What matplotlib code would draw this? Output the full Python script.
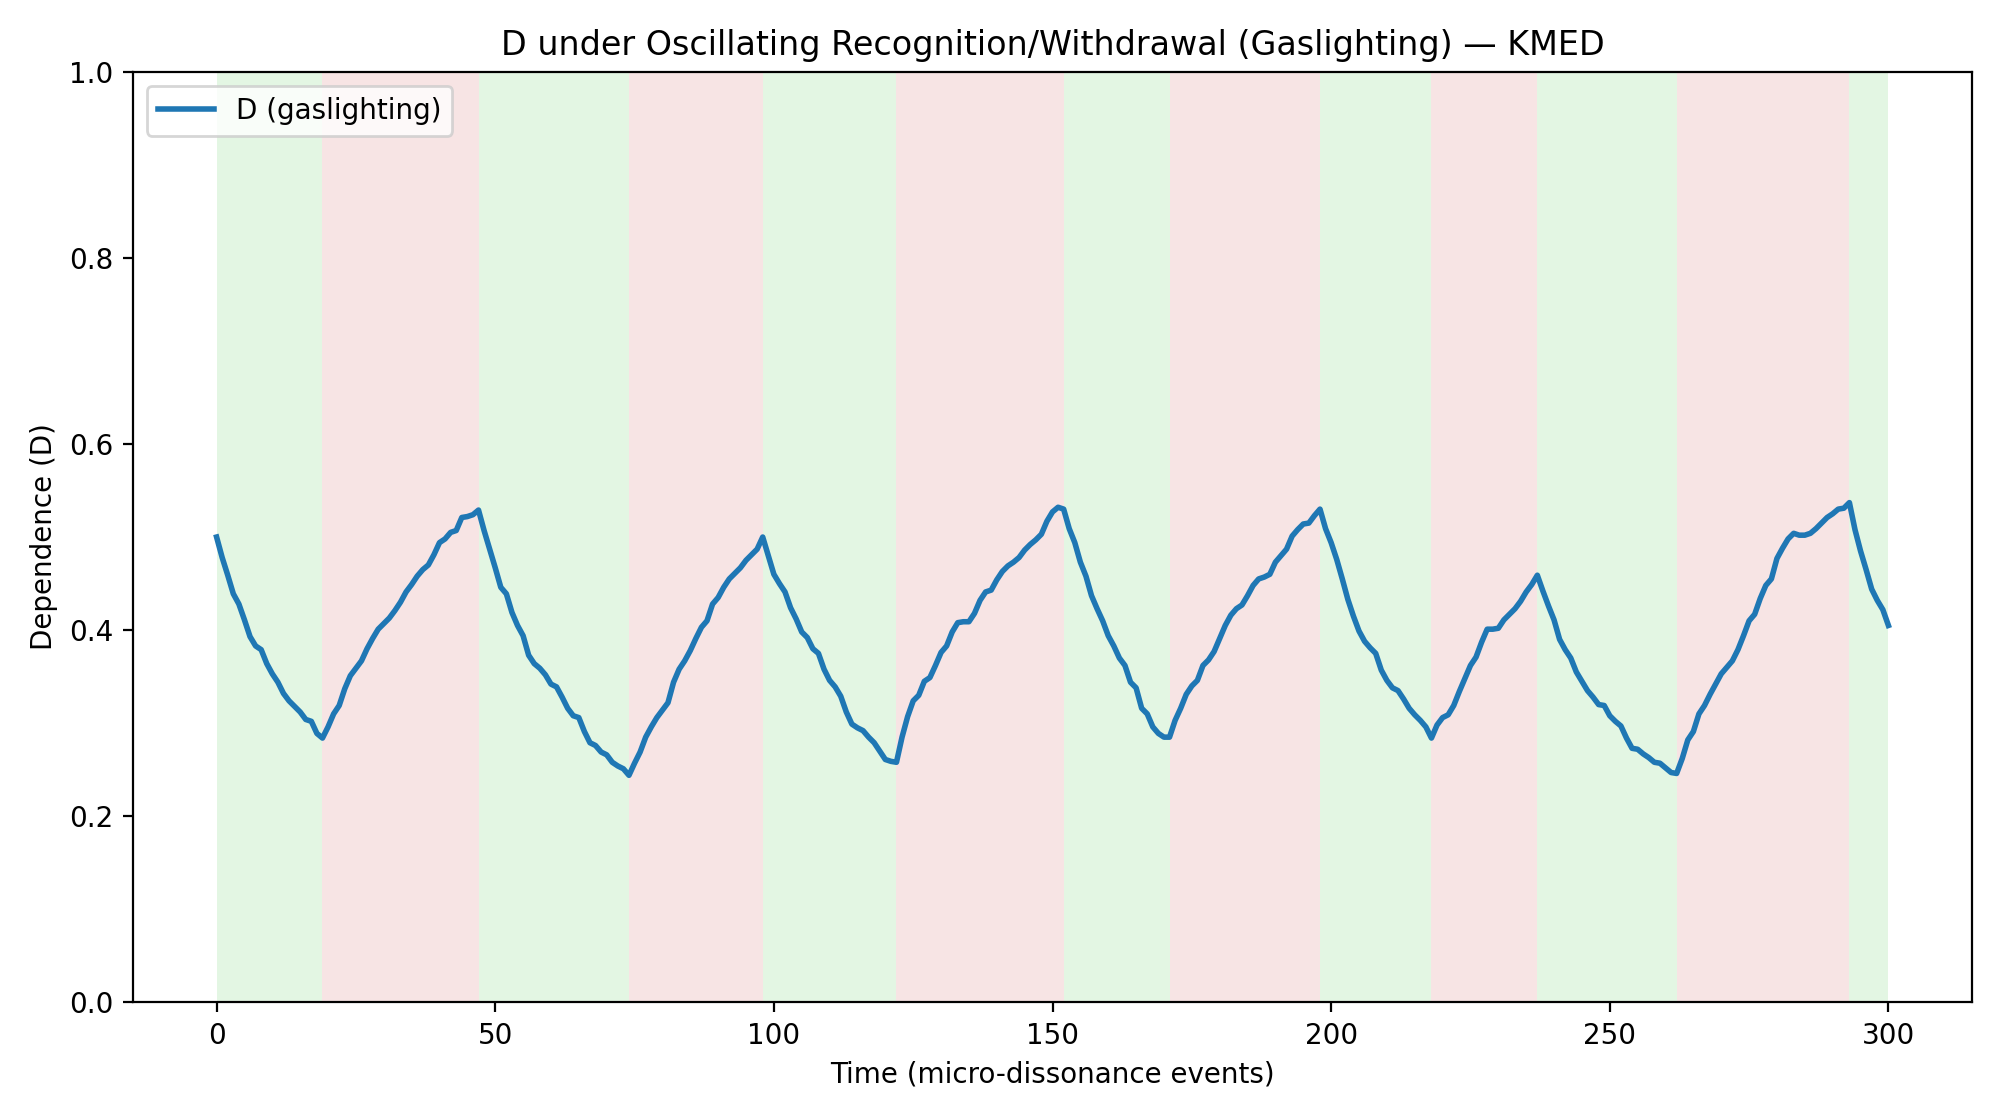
import matplotlib
matplotlib.use("Agg")
import matplotlib.pyplot as plt
import numpy as np

# Phase boundaries (recognition = green, withdrawal = red), alternating starting with recognition
phase_bounds = [0, 19, 47, 74, 98, 122, 152, 171, 198, 218, 237, 262, 293, 300]
phase_kinds = ["rec", "wd", "rec", "wd", "rec", "wd", "rec", "wd", "rec", "wd", "rec", "wd", "rec"]

D_values = [
    0.500, 0.478, 0.459, 0.439, 0.428, 0.411, 0.393, 0.383, 0.379, 0.364,
    0.353, 0.344, 0.332, 0.324, 0.318, 0.312, 0.304, 0.302, 0.289, 0.284,
    0.296, 0.310, 0.319, 0.337, 0.351, 0.359, 0.367, 0.380, 0.391, 0.401,
    0.407, 0.413, 0.421, 0.430, 0.441, 0.449, 0.458, 0.465, 0.470, 0.481,
    0.494, 0.498, 0.505, 0.507, 0.521, 0.522, 0.524, 0.529, 0.507, 0.487,
    0.467, 0.446, 0.439, 0.419, 0.405, 0.394, 0.373, 0.364, 0.359, 0.352,
    0.342, 0.339, 0.328, 0.316, 0.308, 0.306, 0.291, 0.279, 0.276, 0.269,
    0.266, 0.258, 0.254, 0.251, 0.244, 0.257, 0.269, 0.285, 0.296, 0.306,
    0.314, 0.322, 0.344, 0.358, 0.367, 0.378, 0.391, 0.403, 0.410, 0.428,
    0.435, 0.446, 0.455, 0.461, 0.467, 0.475, 0.481, 0.487, 0.500, 0.480,
    0.460, 0.450, 0.441, 0.424, 0.412, 0.398, 0.392, 0.380, 0.375, 0.358,
    0.346, 0.339, 0.329, 0.312, 0.299, 0.295, 0.292, 0.285, 0.279, 0.270,
    0.261, 0.259, 0.258, 0.285, 0.307, 0.324, 0.330, 0.345, 0.349, 0.362,
    0.376, 0.383, 0.398, 0.408, 0.409, 0.409, 0.418, 0.432, 0.441, 0.443,
    0.454, 0.463, 0.469, 0.473, 0.478, 0.486, 0.492, 0.497, 0.503, 0.517,
    0.527, 0.532, 0.530, 0.509, 0.494, 0.473, 0.458, 0.437, 0.423, 0.410,
    0.394, 0.383, 0.370, 0.362, 0.344, 0.338, 0.316, 0.310, 0.296, 0.289,
    0.285, 0.285, 0.303, 0.316, 0.331, 0.340, 0.346, 0.362, 0.368, 0.377,
    0.391, 0.405, 0.416, 0.423, 0.427, 0.437, 0.448, 0.455, 0.457, 0.460,
    0.473, 0.480, 0.487, 0.501, 0.508, 0.514, 0.515, 0.523, 0.530, 0.509,
    0.494, 0.476, 0.455, 0.433, 0.415, 0.399, 0.388, 0.381, 0.375, 0.357,
    0.346, 0.338, 0.335, 0.326, 0.316, 0.309, 0.303, 0.296, 0.284, 0.298,
    0.306, 0.309, 0.319, 0.334, 0.348, 0.362, 0.371, 0.387, 0.401, 0.401,
    0.402, 0.411, 0.417, 0.423, 0.431, 0.441, 0.449, 0.459, 0.442, 0.426,
    0.411, 0.390, 0.379, 0.370, 0.355, 0.345, 0.335, 0.328, 0.320, 0.319,
    0.308, 0.302, 0.297, 0.284, 0.273, 0.272, 0.267, 0.263, 0.258, 0.257,
    0.252, 0.247, 0.246, 0.262, 0.282, 0.291, 0.310, 0.319, 0.331, 0.342,
    0.353, 0.360, 0.367, 0.379, 0.394, 0.410, 0.417, 0.434, 0.448, 0.455,
    0.477, 0.488, 0.498, 0.504, 0.502, 0.502, 0.504, 0.509, 0.515, 0.521,
    0.525, 0.530, 0.531, 0.537, 0.508, 0.485, 0.465, 0.444, 0.432, 0.422,
    0.405,
]
t = np.arange(len(D_values))

fig = plt.figure(figsize=(10, 5.6), dpi=200)
ax = fig.add_axes([0.0665, 0.105, 0.9195, 0.831])

colors = {"rec": "#e3f6e3", "wd": "#f7e4e4"}
for i, kind in enumerate(phase_kinds):
    ax.axvspan(phase_bounds[i], phase_bounds[i + 1], color=colors[kind], lw=0, zorder=0)

ax.plot(t, D_values, color="#1f77b4", lw=2, label="D (gaslighting)", zorder=3)
ax.set_ylim(0, 1.0)
ax.set_xlim(-15, 315)
ax.set_title("D under Oscillating Recognition/Withdrawal (Gaslighting) — KMED", fontsize=12)
ax.set_xlabel("Time (micro-dissonance events)")
ax.set_ylabel("Dependence (D)")
ax.legend(loc="upper left")

fig.savefig("out.png", dpi=200)
